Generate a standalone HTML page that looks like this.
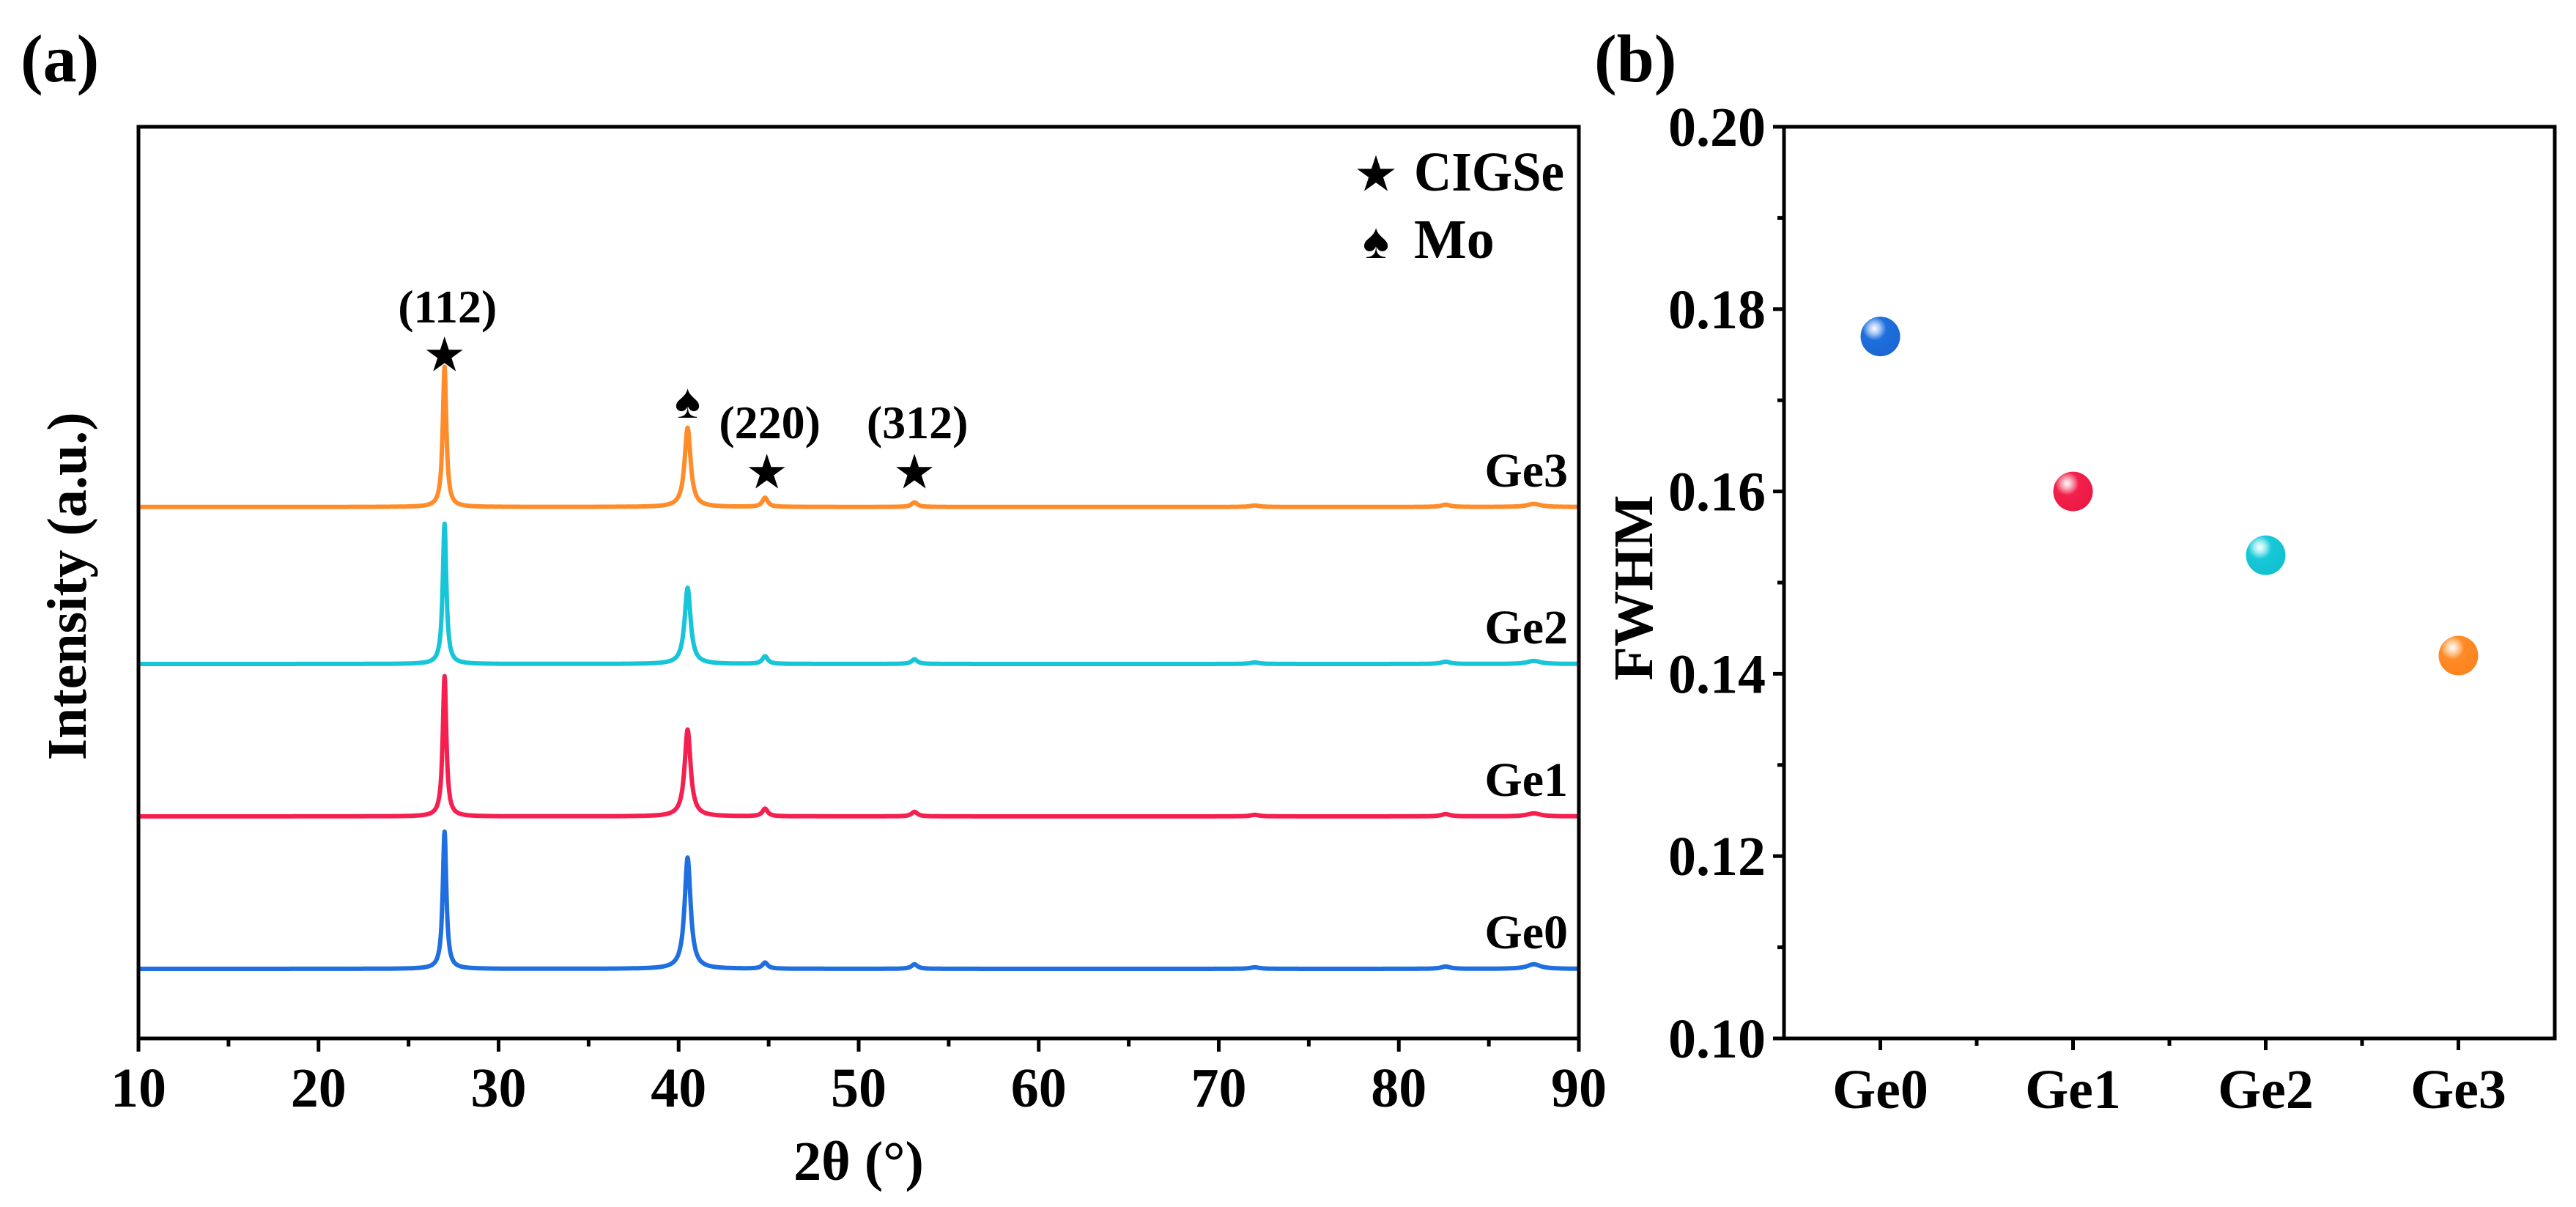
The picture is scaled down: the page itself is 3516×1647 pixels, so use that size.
<!DOCTYPE html>
<html><head><meta charset="utf-8">
<style>
html,body{margin:0;padding:0;background:#fff;}
svg{display:block;font-family:"Liberation Serif",serif;font-weight:bold;}
</style></head>
<body>
<svg id="fig" width="3516" height="1647" viewBox="0 0 3516 1647" xmlns="http://www.w3.org/2000/svg">
<defs>
<radialGradient id="gBlue" cx="0.35" cy="0.3" r="0.75"><stop offset="0" stop-color="#fff"/><stop offset="0.18" stop-color="#a9c8f5"/><stop offset="0.4" stop-color="#1e6fdc"/><stop offset="1" stop-color="#1a66d4"/></radialGradient>
<radialGradient id="gRed" cx="0.35" cy="0.3" r="0.75"><stop offset="0" stop-color="#fff"/><stop offset="0.18" stop-color="#f7a6b5"/><stop offset="0.4" stop-color="#f2204a"/><stop offset="1" stop-color="#ea1a44"/></radialGradient>
<radialGradient id="gCyan" cx="0.35" cy="0.3" r="0.75"><stop offset="0" stop-color="#fff"/><stop offset="0.18" stop-color="#a7eef3"/><stop offset="0.4" stop-color="#17c8d8"/><stop offset="1" stop-color="#12c0d0"/></radialGradient>
<radialGradient id="gOrange" cx="0.35" cy="0.3" r="0.75"><stop offset="0" stop-color="#fff"/><stop offset="0.18" stop-color="#ffd0a5"/><stop offset="0.4" stop-color="#ff8a26"/><stop offset="1" stop-color="#f98420"/></radialGradient>
</defs>
<text x="28" y="111" font-size="92">(a)</text>
<text x="2176" y="111" font-size="92">(b)</text>
<g id="pa"></g>
<g id="pb"></g>
</svg>
<script>
// ---- Panel (a) data ----
const xrdSeries = ["Ge0","Ge1","Ge2","Ge3"];
const xrdColors = ["#1f6fe0","#f5204f","#17c5d8","#ff8c2a"];
const xrdOffsets = [0, 1.0, 2.0, 3.03];
const peakPositions = [27.0, 40.5, 44.8, 53.1, 72.0, 82.6, 87.5];
const peakWidths = [0.12, 0.2, 0.18, 0.2, 0.3, 0.3, 0.45];
const ge0Heights = [0.90, 0.73, 0.04, 0.03, 0.01, 0.015, 0.03];
const ge1Heights = [0.92, 0.57, 0.05, 0.03, 0.01, 0.015, 0.02];
const ge2Heights = [0.92, 0.50, 0.05, 0.03, 0.01, 0.015, 0.02];
const ge3Heights = [0.92, 0.52, 0.06, 0.03, 0.01, 0.015, 0.02];
const seriesHeights = [ge0Heights, ge1Heights, ge2Heights, ge3Heights];
const xTicks = [10,20,30,40,50,60,70,80,90];
const annotations = [{t:"(112)",x:27.0,h:1.21,sym:"★",sh:1.0},{t:"(220)",x:44.9,h:0.45,sym:"★",sh:0.23},{t:"(312)",x:53.1,h:0.45,sym:"★",sh:0.23}];

// ---- Panel (b) data ----
const fwhmCategories = ["Ge0","Ge1","Ge2","Ge3"];
const fwhmValues = [0.177, 0.160, 0.153, 0.142];
const fwhmFills = ["url(#gBlue)","url(#gRed)","url(#gCyan)","url(#gOrange)"];
const yTicksB = [0.10,0.12,0.14,0.16,0.18,0.20];

const NS="http://www.w3.org/2000/svg";
function mk(tag, attrs, parent, txt){const e=document.createElementNS(NS,tag);for(const k in attrs)e.setAttribute(k,attrs[k]);if(txt!==undefined)e.textContent=txt;parent.appendChild(e);return e;}

const A={l:189,r:2155,t:173,b:1417};
const xA=v=>A.l+(v-10)/80*(A.r-A.l);
const base0=1322, unit=208;
const yA=v=>base0-v*unit;
const pa=document.getElementById('pa');

xrdSeries.forEach((name,si)=>{
  const hs=seriesHeights[si];
  let d="";
  for(let x=10;x<=90.0001;x+=0.02){
    let I=0;
    for(let p=0;p<peakPositions.length;p++){const w=peakWidths[p];const dx=(x-peakPositions[p])/w;I+=hs[p]/(1+dx*dx);}
    const px=xA(x), py=yA(xrdOffsets[si]+I);
    d+=(d?"L":"M")+px.toFixed(1)+","+py.toFixed(1);
  }
  const path=mk('path',{d:d,fill:"none",stroke:xrdColors[si],"stroke-width":6,"stroke-linejoin":"round"},pa);
  
  
  const lb=mk('text',{x:2140,y:yA(xrdOffsets[si])-28,"font-size":66,"text-anchor":"end"},pa,name);
  
  
});
annotations.forEach(a=>{
  const t=mk('text',{x:xA(a.x)+4,y:yA(xrdOffsets[3]+a.h),"font-size":64,"text-anchor":"middle"},pa,a.t);
  
  
  const s=mk('text',{x:xA(a.x),y:yA(xrdOffsets[3]+a.sh)+20,"font-size":58,"text-anchor":"middle"},pa,a.sym);
  
  
});
const sp=mk('text',{x:xA(40.5),y:yA(xrdOffsets[3]+0.7)+24,"font-size":66,"text-anchor":"middle"},pa,"♠");


const lg=mk('g',{},pa);


mk('text',{x:1878,y:258,"font-size":60,"text-anchor":"middle"},lg,"★");
mk('text',{x:1930,y:260,"font-size":76,textLength:205,lengthAdjust:"spacingAndGlyphs"},lg,"CIGSe");
mk('text',{x:1878,y:352,"font-size":68,"text-anchor":"middle"},lg,"♠");
mk('text',{x:1930,y:352,"font-size":76},lg,"Mo");
const fa=mk('rect',{x:A.l,y:A.t,width:A.r-A.l,height:A.b-A.t,fill:"none",stroke:"#000","stroke-width":5},pa);


for(let v=10;v<=90;v+=5){
  const major=v%10===0;
  mk('line',{x1:xA(v),x2:xA(v),y1:A.b,y2:A.b+(major?18:11),stroke:"#000","stroke-width":5},pa);
}
xTicks.forEach(v=>{
  const t=mk('text',{x:xA(v),y:1510,"font-size":76,"text-anchor":"middle"},pa,String(v));
  
  
});
const xt=mk('text',{x:1172,y:1610,"font-size":76,"text-anchor":"middle"},pa,"2θ (°)");


const yt=mk('text',{x:0,y:0,"font-size":76,"text-anchor":"middle",transform:"translate(117,800) rotate(-90)"},pa,"Intensity (a.u.)");



const B={l:2435,r:3487,t:173,b:1417};
const yB=v=>B.b-(v-0.10)/0.10*(B.b-B.t);
const band=(B.r-B.l)/fwhmCategories.length;
const xB=i=>B.l+band*(i+0.5);
const pb=document.getElementById('pb');
const fb=mk('rect',{x:B.l,y:B.t,width:B.r-B.l,height:B.b-B.t,fill:"none",stroke:"#000","stroke-width":5},pb);


for(let k=0;k<=10;k++){
  const v=0.10+k*0.01;
  mk('line',{x1:B.l,x2:B.l-(k%2===0?15:9),y1:yB(v),y2:yB(v),stroke:"#000","stroke-width":5},pb);
}
yTicksB.forEach(v=>{
  const t=mk('text',{x:2410,y:yB(v)+26,"font-size":76,"text-anchor":"end"},pb,v.toFixed(2));
  
  
});
fwhmCategories.forEach((c,i)=>{
  mk('line',{x1:xB(i),x2:xB(i),y1:B.b,y2:B.b+16,stroke:"#000","stroke-width":5},pb);
  if(i>0) mk('line',{x1:B.l+band*i,x2:B.l+band*i,y1:B.b,y2:B.b+10,stroke:"#000","stroke-width":5},pb);
  const t=mk('text',{x:xB(i),y:1512,"font-size":76,"text-anchor":"middle"},pb,c);
  
  
});
fwhmValues.forEach((v,i)=>{
  const c=mk('circle',{cx:xB(i),cy:yB(v),r:27,fill:fwhmFills[i]},pb);
  
  
});
const ybt=mk('text',{x:0,y:0,"font-size":76,"text-anchor":"middle",transform:"translate(2255,802) rotate(-90)"},pb,"FWHM");


</script>
</body></html>
